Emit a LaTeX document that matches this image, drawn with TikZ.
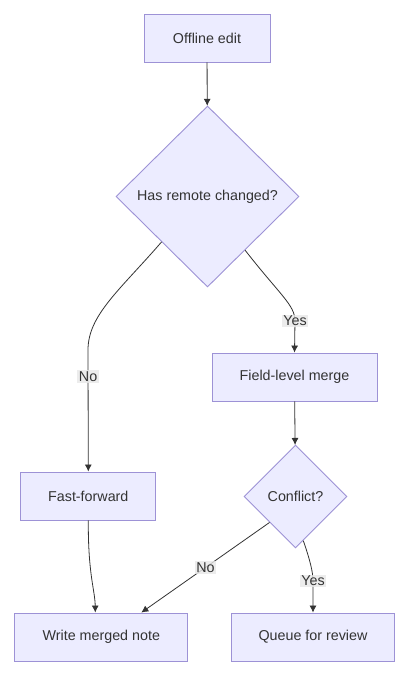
\documentclass[tikz,border=0pt]{standalone}
\usepackage{fontspec}
\setmainfont{Liberation Sans}
\usetikzlibrary{arrows.meta,shapes.geometric,positioning}
\definecolor{nodefill}{HTML}{ECECFF}
\definecolor{nodeline}{HTML}{9D92D6}
\definecolor{edgeline}{HTML}{333333}
\definecolor{labelfill}{HTML}{E8E8E8}

\begin{document}
\begin{tikzpicture}[x=1pt,y=-1pt]
                \tikzstyle{step box} = [shape=rectangle, fill=nodefill, draw=nodeline, line width=0.9pt, text=edgeline, font=\fontsize{14.3}{16}\selectfont, minimum height=48pt, inner sep=0pt];
                \tikzstyle{choice} = [shape=diamond, fill=nodefill, draw=nodeline, line width=0.9pt, text=edgeline, font=\fontsize{14.3}{16}\selectfont, inner sep=0pt];
                \tikzstyle{answer} = [fill=labelfill, fill opacity=0.8, text opacity=1, text=edgeline, font=\fontsize{14.3}{16}\selectfont, inner sep=1.5pt];
                \tikzstyle{flow} = [-{Latex[length=7pt,width=7pt]}, draw=edgeline, line width=0.8pt];

                \fill[white] (0,0) rectangle (410,675);
                \useasboundingbox (0,0) rectangle (410,675);

                \node[step box, minimum width=126pt](Edit) at (207,38) {Offline edit};
                \node[choice, minimum width=183pt, minimum height=181pt](Remote) at (207.5,196.5) {Has remote changed?};
                \node[step box, minimum width=165pt](Merge) at (294.5,377) {Field-level merge};
                \node[step box, minimum width=135pt](Fast) at (88.3,496) {Fast-forward};
                \node[choice, minimum width=103pt, minimum height=103pt](Conflict) at (295.5,496.5) {Conflict?};
                \node[step box, minimum width=173pt](Write) at (101.3,637) {Write merged note};
                \node[step box, minimum width=163pt](Queue) at (313,637) {Queue for review};

                \path
                    (Edit) edge[flow] (Remote)
                    (Merge) edge[flow] (Conflict)
                    (Conflict.south west) edge[flow] node[answer]{No} ([xshift=40pt]Write.north)
                ;

                % curved branches
                \draw[flow] (Remote.south west) .. controls (120,290) and (88,315) .. (88,350)
                    -- node[answer, pos=0.22]{No} (Fast.north);
                \draw[flow] (Remote.-55) .. controls (280,295) and (295,305) .. (295,321)
                    node[answer]{Yes} -- (Merge.north);
                \draw[flow] (Fast.south) .. controls (88,575) and (95,590) .. ([xshift=-6pt]Write.north);
                \draw[flow] (Conflict.-80) .. controls (310,560) and (313,572) .. (313,581)
                    node[answer]{Yes} -- (Queue.north);
            \end{tikzpicture}
\end{document}
